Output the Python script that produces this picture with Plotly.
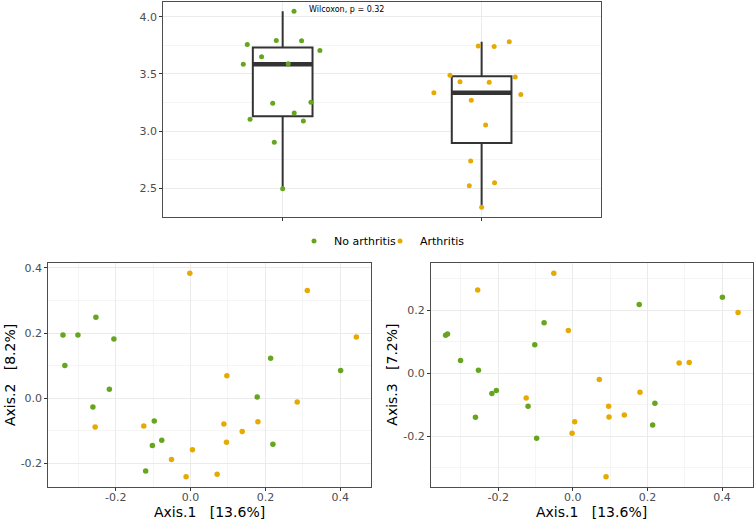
import numpy as np
import plotly.graph_objects as go

# ---------------- data ----------------
groups = ["No arthritis", "Arthritis"]
group_colors = ["#66A61E", "#E6AB02"]

# top panel: diversity index per sample (jittered strip + box)
div_no_arthritis = [4.047, 3.757, 3.791, 3.789, 3.704, 3.650, 3.583, 3.589,
                    3.243, 3.252, 3.157, 3.102, 3.087, 2.902, 2.496]
jitter_no_arthritis = [0.057, -0.178, -0.032, 0.095, 0.187, -0.106, -0.198, 0.028,
                       -0.050, 0.142, 0.058, -0.164, 0.104, -0.042, 0.000]
div_arthritis = [3.487, 3.432, 3.426, 3.473, 3.334, 3.319, 3.270, 3.052,
                 3.743, 3.739, 3.780, 2.737, 2.522, 2.548, 2.334]
jitter_arthritis = [-0.159, -0.109, 0.038, 0.169, -0.240, 0.197, -0.052, 0.020,
                    -0.017, 0.063, 0.139, -0.055, -0.062, 0.065, 0.000]
test_label = "Wilcoxon, p = 0.32"

# ordination coordinates
axis1_no = [-0.341, -0.336, -0.301, -0.253, -0.261, -0.217, -0.205, -0.120,
            -0.102, -0.097, -0.077, 0.178, 0.214, 0.220, 0.401]
axis2_no = [0.194, 0.101, 0.194, 0.249, -0.027, 0.028, 0.182, -0.223,
            -0.145, -0.070, -0.129, 0.004, 0.123, -0.141, 0.085]
axis3_no = [0.121, 0.125, 0.041, 0.010, -0.139, -0.064, -0.054, -0.104,
            0.091, -0.206, 0.161, 0.219, -0.164, -0.095, 0.242]

axis1_ar = [-0.002, 0.312, 0.443, 0.097, 0.285, -0.255, -0.125, 0.089,
            0.180, 0.138, 0.096, 0.005, -0.051, -0.012, 0.071]
axis2_ar = [0.384, 0.331, 0.188, 0.069, -0.011, -0.088, -0.085, -0.079,
            -0.072, -0.102, -0.135, -0.158, -0.188, -0.241, -0.233]
axis3_ar = [-0.190, 0.035, 0.193, -0.138, 0.033, 0.265, -0.078, -0.328,
            -0.060, -0.132, -0.104, -0.153, 0.318, 0.136, -0.019]

axis1_title = "Axis.1\u00a0\u00a0\u00a0[13.6%]"
axis2_title = "Axis.2\u00a0\u00a0\u00a0[8.2%]"
axis3_title = "Axis.3\u00a0\u00a0\u00a0[7.2%]"

# ---------------- helpers ----------------
FONT = "DejaVu Sans"
W, H = 755, 522
BORDER = "#4d4d4d"
GRID = "#EBEBEB"
MINOR = "#F5F5F5"
TICKTXT = "#4D4D4D"


def box_stats(v):
    v = np.asarray(v, dtype=float)
    q1, med, q3 = np.percentile(v, [25, 50, 75])
    iqr = q3 - q1
    lo = v[v >= q1 - 1.5 * iqr].min()
    hi = v[v <= q3 + 1.5 * iqr].max()
    return q1, med, q3, lo, hi


def expand(vals, f=0.05):
    v = np.asarray(vals, dtype=float)
    lo, hi = v.min(), v.max()
    d = (hi - lo) * f
    return [lo - d, hi + d]


def ticks(rng, step):
    start = np.ceil(rng[0] / step - 1e-9) * step
    vals = np.arange(start, rng[1] + 1e-9, step)
    vals = [round(float(x), 6) for x in vals]
    return vals, [f"{x:.1f}".replace("-0.0", "0.0") for x in vals]


def px_x(a, b):
    return [a / W, b / W]


def px_y(top, bottom):
    return [1 - bottom / H, 1 - top / H]


fig = go.Figure()

# ---------------- top panel ----------------
div_lists = [div_no_arthritis, div_arthritis]
jit_lists = [jitter_no_arthritis, jitter_arthritis]
box_w = 0.3
for i, (g, col, vals, jit) in enumerate(zip(groups, group_colors, div_lists, jit_lists)):
    pos = i + 1
    q1, med, q3, lo, hi = box_stats(vals)
    fig.add_trace(go.Box(
        x=[pos], q1=[q1], median=[med], q3=[q3], lowerfence=[lo], upperfence=[hi],
        width=box_w, whiskerwidth=0, fillcolor="white",
        line=dict(color="#333333", width=2),
        boxpoints=False, showlegend=False, hoverinfo="skip",
        xaxis="x", yaxis="y"))
    fig.add_trace(go.Scatter(
        x=[pos - box_w / 2, pos + box_w / 2], y=[med, med], mode="lines",
        line=dict(color="#333333", width=4.5), showlegend=False, hoverinfo="skip",
        xaxis="x", yaxis="y"))

for i, (g, col, vals, jit) in enumerate(zip(groups, group_colors, div_lists, jit_lists)):
    pos = i + 1
    fig.add_trace(go.Scatter(
        x=[pos + j for j in jit], y=vals, mode="markers", name=g, legendgroup=g,
        marker=dict(color=col, size=5, line=dict(width=0)),
        showlegend=True, xaxis="x", yaxis="y"))

# ---------------- bottom panels ----------------
for g, col, a1, a2, a3 in [(groups[0], group_colors[0], axis1_no, axis2_no, axis3_no),
                           (groups[1], group_colors[1], axis1_ar, axis2_ar, axis3_ar)]:
    fig.add_trace(go.Scatter(x=a1, y=a2, mode="markers", name=g, legendgroup=g,
                             marker=dict(color=col, size=5.5, line=dict(width=0)),
                             showlegend=False, xaxis="x2", yaxis="y2"))
    fig.add_trace(go.Scatter(x=a1, y=a3, mode="markers", name=g, legendgroup=g,
                             marker=dict(color=col, size=5.5, line=dict(width=0)),
                             showlegend=False, xaxis="x3", yaxis="y3"))

# ---------------- axes ----------------
common = dict(showline=True, mirror=True, linecolor=BORDER, linewidth=1,
              ticks="outside", ticklen=3, tickcolor="#333333", tickwidth=1,
              gridcolor=GRID, gridwidth=1, zeroline=False,
              tickfont=dict(family=FONT, size=11, color=TICKTXT))

top_y_rng = expand(div_no_arthritis + div_arthritis)
ty_vals, ty_text = ticks(top_y_rng, 0.5)

x1_rng = expand(axis1_no + axis1_ar)
y2_rng = expand(axis2_no + axis2_ar)
y3_rng = expand(axis3_no + axis3_ar)
x_vals, x_text = ticks(x1_rng, 0.2)
y2_vals, y2_text = ticks(y2_rng, 0.2)
y3_vals, y3_text = ticks(y3_rng, 0.2)

minor = dict(showgrid=True, gridcolor=MINOR, gridwidth=0.6, ticks="")

fig.update_layout(
    xaxis=dict(domain=px_x(163.3, 601), range=[0.4, 2.6], tickvals=[1, 2],
               ticktext=["", ""], anchor="y", **common),
    yaxis=dict(domain=px_y(1.5, 217), range=top_y_rng, tickvals=ty_vals,
               ticktext=ty_text, anchor="x", minor=dict(dtick=0.25, tick0=0, **minor),
               **common),
    xaxis2=dict(domain=px_x(48.3, 371), range=x1_rng, tickvals=x_vals, ticktext=x_text,
                anchor="y2", minor=dict(dtick=0.1, tick0=0, **minor),
                ticklabelstandoff=-3, **common),
    yaxis2=dict(domain=px_y(263, 487), range=y2_rng, tickvals=y2_vals, ticktext=y2_text,
                anchor="x2", minor=dict(dtick=0.1, tick0=0, **minor), **common),
    xaxis3=dict(domain=px_x(431, 752.7), range=x1_rng, tickvals=x_vals, ticktext=x_text,
                anchor="y3", minor=dict(dtick=0.1, tick0=0, **minor),
                ticklabelstandoff=-3, **common),
    yaxis3=dict(domain=px_y(263, 487), range=y3_rng, tickvals=y3_vals, ticktext=y3_text,
                anchor="x3", minor=dict(dtick=0.1, tick0=0, **minor), **common),
)

annots = [
    dict(text=test_label, x=1.124, y=4.067, xref="x", yref="y", xanchor="left",
         yanchor="middle", showarrow=False, font=dict(family=FONT, size=8, color="black")),
    dict(text=axis1_title, x=209.7 / W, y=1 - 512 / H, xref="paper", yref="paper",
         xanchor="center", yanchor="middle", showarrow=False,
         font=dict(family=FONT, size=14, color="black")),
    dict(text=axis1_title, x=591.9 / W, y=1 - 512 / H, xref="paper", yref="paper",
         xanchor="center", yanchor="middle", showarrow=False,
         font=dict(family=FONT, size=14, color="black")),
    dict(text=axis2_title, x=10 / W, y=1 - 375 / H, xref="paper", yref="paper",
         xanchor="center", yanchor="middle", textangle=-90, showarrow=False,
         font=dict(family=FONT, size=14, color="black")),
    dict(text=axis3_title, x=391.7 / W, y=1 - 375 / H, xref="paper", yref="paper",
         xanchor="center", yanchor="middle", textangle=-90, showarrow=False,
         font=dict(family=FONT, size=14, color="black")),
]

fig.update_layout(
    width=W, height=H, margin=dict(l=0, r=0, t=0, b=0),
    paper_bgcolor="white", plot_bgcolor="white",
    font=dict(family=FONT, size=11, color="black"),
    annotations=annots,
    showlegend=True,
    legend=dict(orientation="h", x=294 / W, xanchor="left", y=1 - 241 / H,
                yanchor="middle", font=dict(family=FONT, size=11, color="black"),
                bgcolor="rgba(0,0,0,0)", itemwidth=30, tracegroupgap=0,
                entrywidth=41, entrywidthmode="pixels", borderwidth=0),
)

fig.write_html("out.html",
               config={"displayModeBar": False},
               post_script="document.body.style.margin='0px';document.body.style.padding='0px';")
